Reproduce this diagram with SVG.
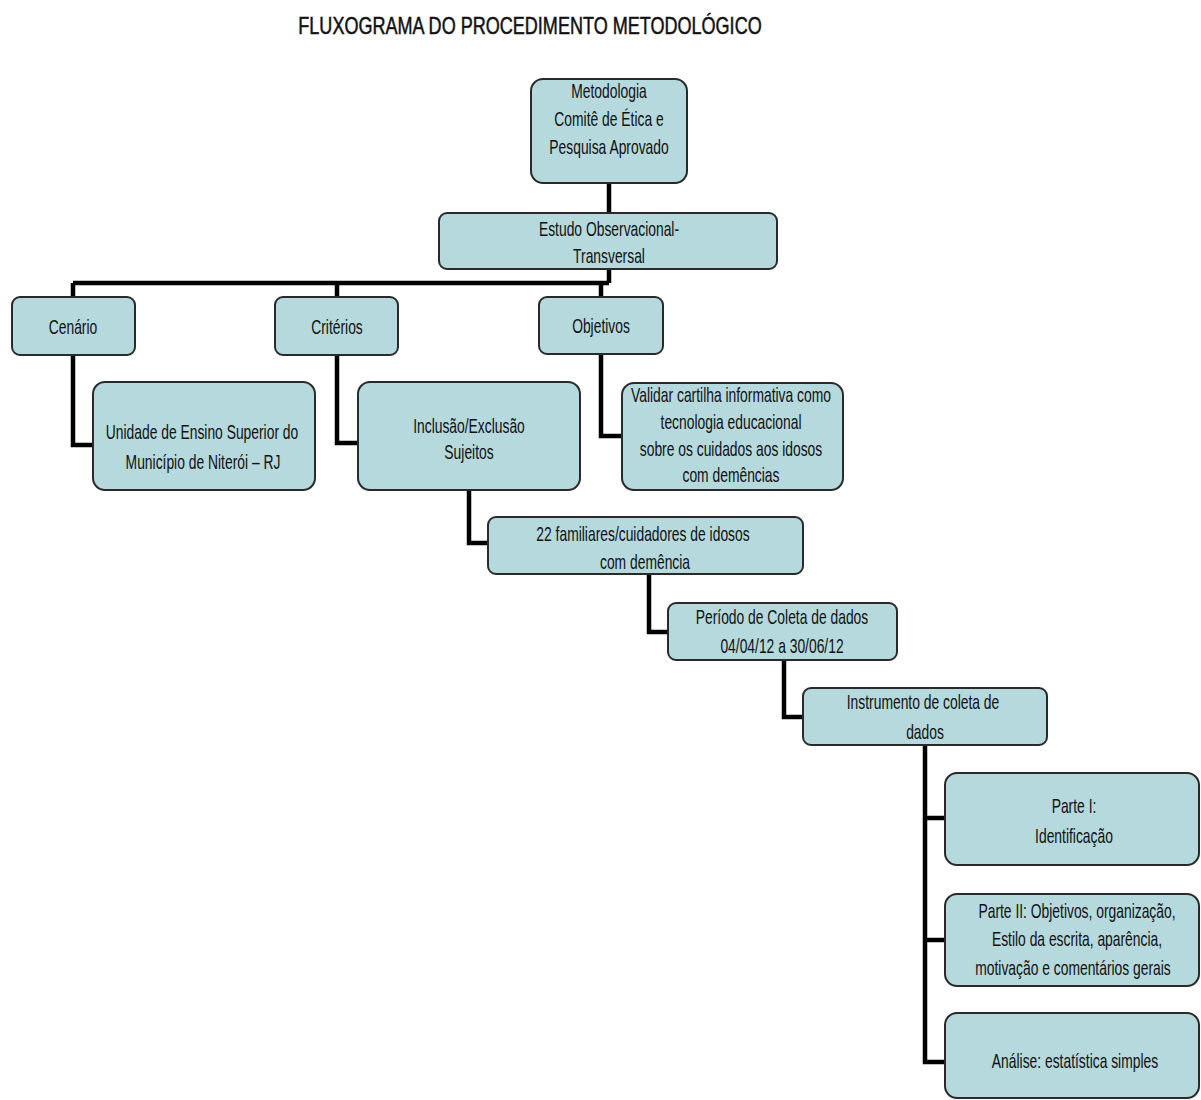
<svg xmlns="http://www.w3.org/2000/svg" width="1201" height="1100" viewBox="0 0 1201 1100">
<style>
.bg{fill:#ffffff}
.box{fill:#B5D9DD;stroke:#2a2a2a;stroke-width:2}
.t{font-family:"Liberation Sans",Arial,sans-serif;font-size:21px;fill:#111;text-anchor:middle}
.title{font-family:"Liberation Sans",Arial,sans-serif;font-size:23px;fill:#111;stroke:#111;stroke-width:0.5;text-anchor:middle}
.c{fill:none;stroke:#000;stroke-width:4.5;stroke-linejoin:miter}
</style>
<rect class="bg" x="0" y="0" width="1201" height="1100"/>
<text class="title" transform="translate(530 34) scale(0.785 1)" x="0" y="0">FLUXOGRAMA DO PROCEDIMENTO METODOLÓGICO</text>
<g id="connectors">
<path class="c" d="M609 183 V213"/>
<path class="c" d="M609 270 V283 M73 283 H609 M73 283 V297 M337 283 V297 M601 283 V297"/>
<path class="c" d="M73 355 V445 H93"/>
<path class="c" d="M337 355 V443 H358"/>
<path class="c" d="M601 353 V436 H622"/>
<path class="c" d="M469 490 V543 H488"/>
<path class="c" d="M649 574 V632 H668"/>
<path class="c" d="M784 660 V717 H803"/>
<path class="c" d="M925 745 V1062 H945 M925 818 H945 M925 940 H945"/>
</g>
<g id="n-metodologia">
<rect class="box" x="531" y="79" width="156" height="104" rx="12"/>
<text class="t" transform="translate(609 98) scale(0.66 1)">Metodologia</text>
<text class="t" transform="translate(609 126) scale(0.66 1)">Comitê de Ética e</text>
<text class="t" transform="translate(609 154) scale(0.66 1)">Pesquisa Aprovado</text>
</g>
<g id="n-estudo">
<rect class="box" x="439" y="213" width="338" height="56" rx="8"/>
<text class="t" transform="translate(609 236) scale(0.66 1)">Estudo Observacional-</text>
<text class="t" transform="translate(609 263) scale(0.66 1)">Transversal</text>
</g>
<g id="n-cenario">
<rect class="box" x="12" y="297" width="123" height="58" rx="8"/>
<text class="t" transform="translate(73 334) scale(0.66 1)">Cenário</text>
</g>
<g id="n-criterios">
<rect class="box" x="275" y="297" width="123" height="58" rx="8"/>
<text class="t" transform="translate(337 334) scale(0.66 1)">Critérios</text>
</g>
<g id="n-objetivos">
<rect class="box" x="539" y="297" width="124" height="57" rx="8"/>
<text class="t" transform="translate(601 333) scale(0.66 1)">Objetivos</text>
</g>
<g id="n-unidade">
<rect class="box" x="93" y="382" width="222" height="108" rx="12"/>
<text class="t" transform="translate(202 439) scale(0.66 1)">Unidade de Ensino Superior do</text>
<text class="t" transform="translate(203 469) scale(0.66 1)">Município de Niterói – RJ</text>
</g>
<g id="n-inclusao">
<rect class="box" x="358" y="382" width="222" height="108" rx="12"/>
<text class="t" transform="translate(469 433) scale(0.66 1)">Inclusão/Exclusão</text>
<text class="t" transform="translate(469 459) scale(0.66 1)">Sujeitos</text>
</g>
<g id="n-validar">
<rect class="box" x="622" y="383" width="221" height="107" rx="12"/>
<text class="t" transform="translate(731 402) scale(0.66 1)">Validar cartilha informativa como</text>
<text class="t" transform="translate(731 429) scale(0.66 1)">tecnologia educacional</text>
<text class="t" transform="translate(731 456) scale(0.66 1)">sobre os cuidados aos idosos</text>
<text class="t" transform="translate(731 482) scale(0.66 1)">com demências</text>
</g>
<g id="n-familiares">
<rect class="box" x="488" y="517" width="315" height="57" rx="8"/>
<text class="t" transform="translate(643 541) scale(0.66 1)">22 familiares/cuidadores de idosos</text>
<text class="t" transform="translate(645 569) scale(0.66 1)">com demência</text>
</g>
<g id="n-periodo">
<rect class="box" x="668" y="603" width="229" height="57" rx="8"/>
<text class="t" transform="translate(782 624) scale(0.66 1)">Período de Coleta de dados</text>
<text class="t" transform="translate(782 653) scale(0.66 1)">04/04/12 a 30/06/12</text>
</g>
<g id="n-instrumento">
<rect class="box" x="803" y="688" width="244" height="57" rx="8"/>
<text class="t" transform="translate(923 709) scale(0.66 1)">Instrumento de coleta de</text>
<text class="t" transform="translate(925 739) scale(0.66 1)">dados</text>
</g>
<g id="n-parte1">
<rect class="box" x="945" y="773" width="254" height="92" rx="12"/>
<text class="t" transform="translate(1074 813) scale(0.66 1)">Parte I:</text>
<text class="t" transform="translate(1074 843) scale(0.66 1)">Identificação</text>
</g>
<g id="n-parte2">
<rect class="box" x="945" y="894" width="254" height="92" rx="12"/>
<text class="t" transform="translate(1077 918) scale(0.66 1)">Parte II: Objetivos, organização,</text>
<text class="t" transform="translate(1077 946) scale(0.66 1)">Estilo da escrita, aparência,</text>
<text class="t" transform="translate(1073 975) scale(0.66 1)">motivação e comentários gerais</text>
</g>
<g id="n-analise">
<rect class="box" x="945" y="1013" width="254" height="85" rx="12"/>
<text class="t" transform="translate(1075 1068) scale(0.66 1)">Análise: estatística simples</text>
</g>
</svg>
